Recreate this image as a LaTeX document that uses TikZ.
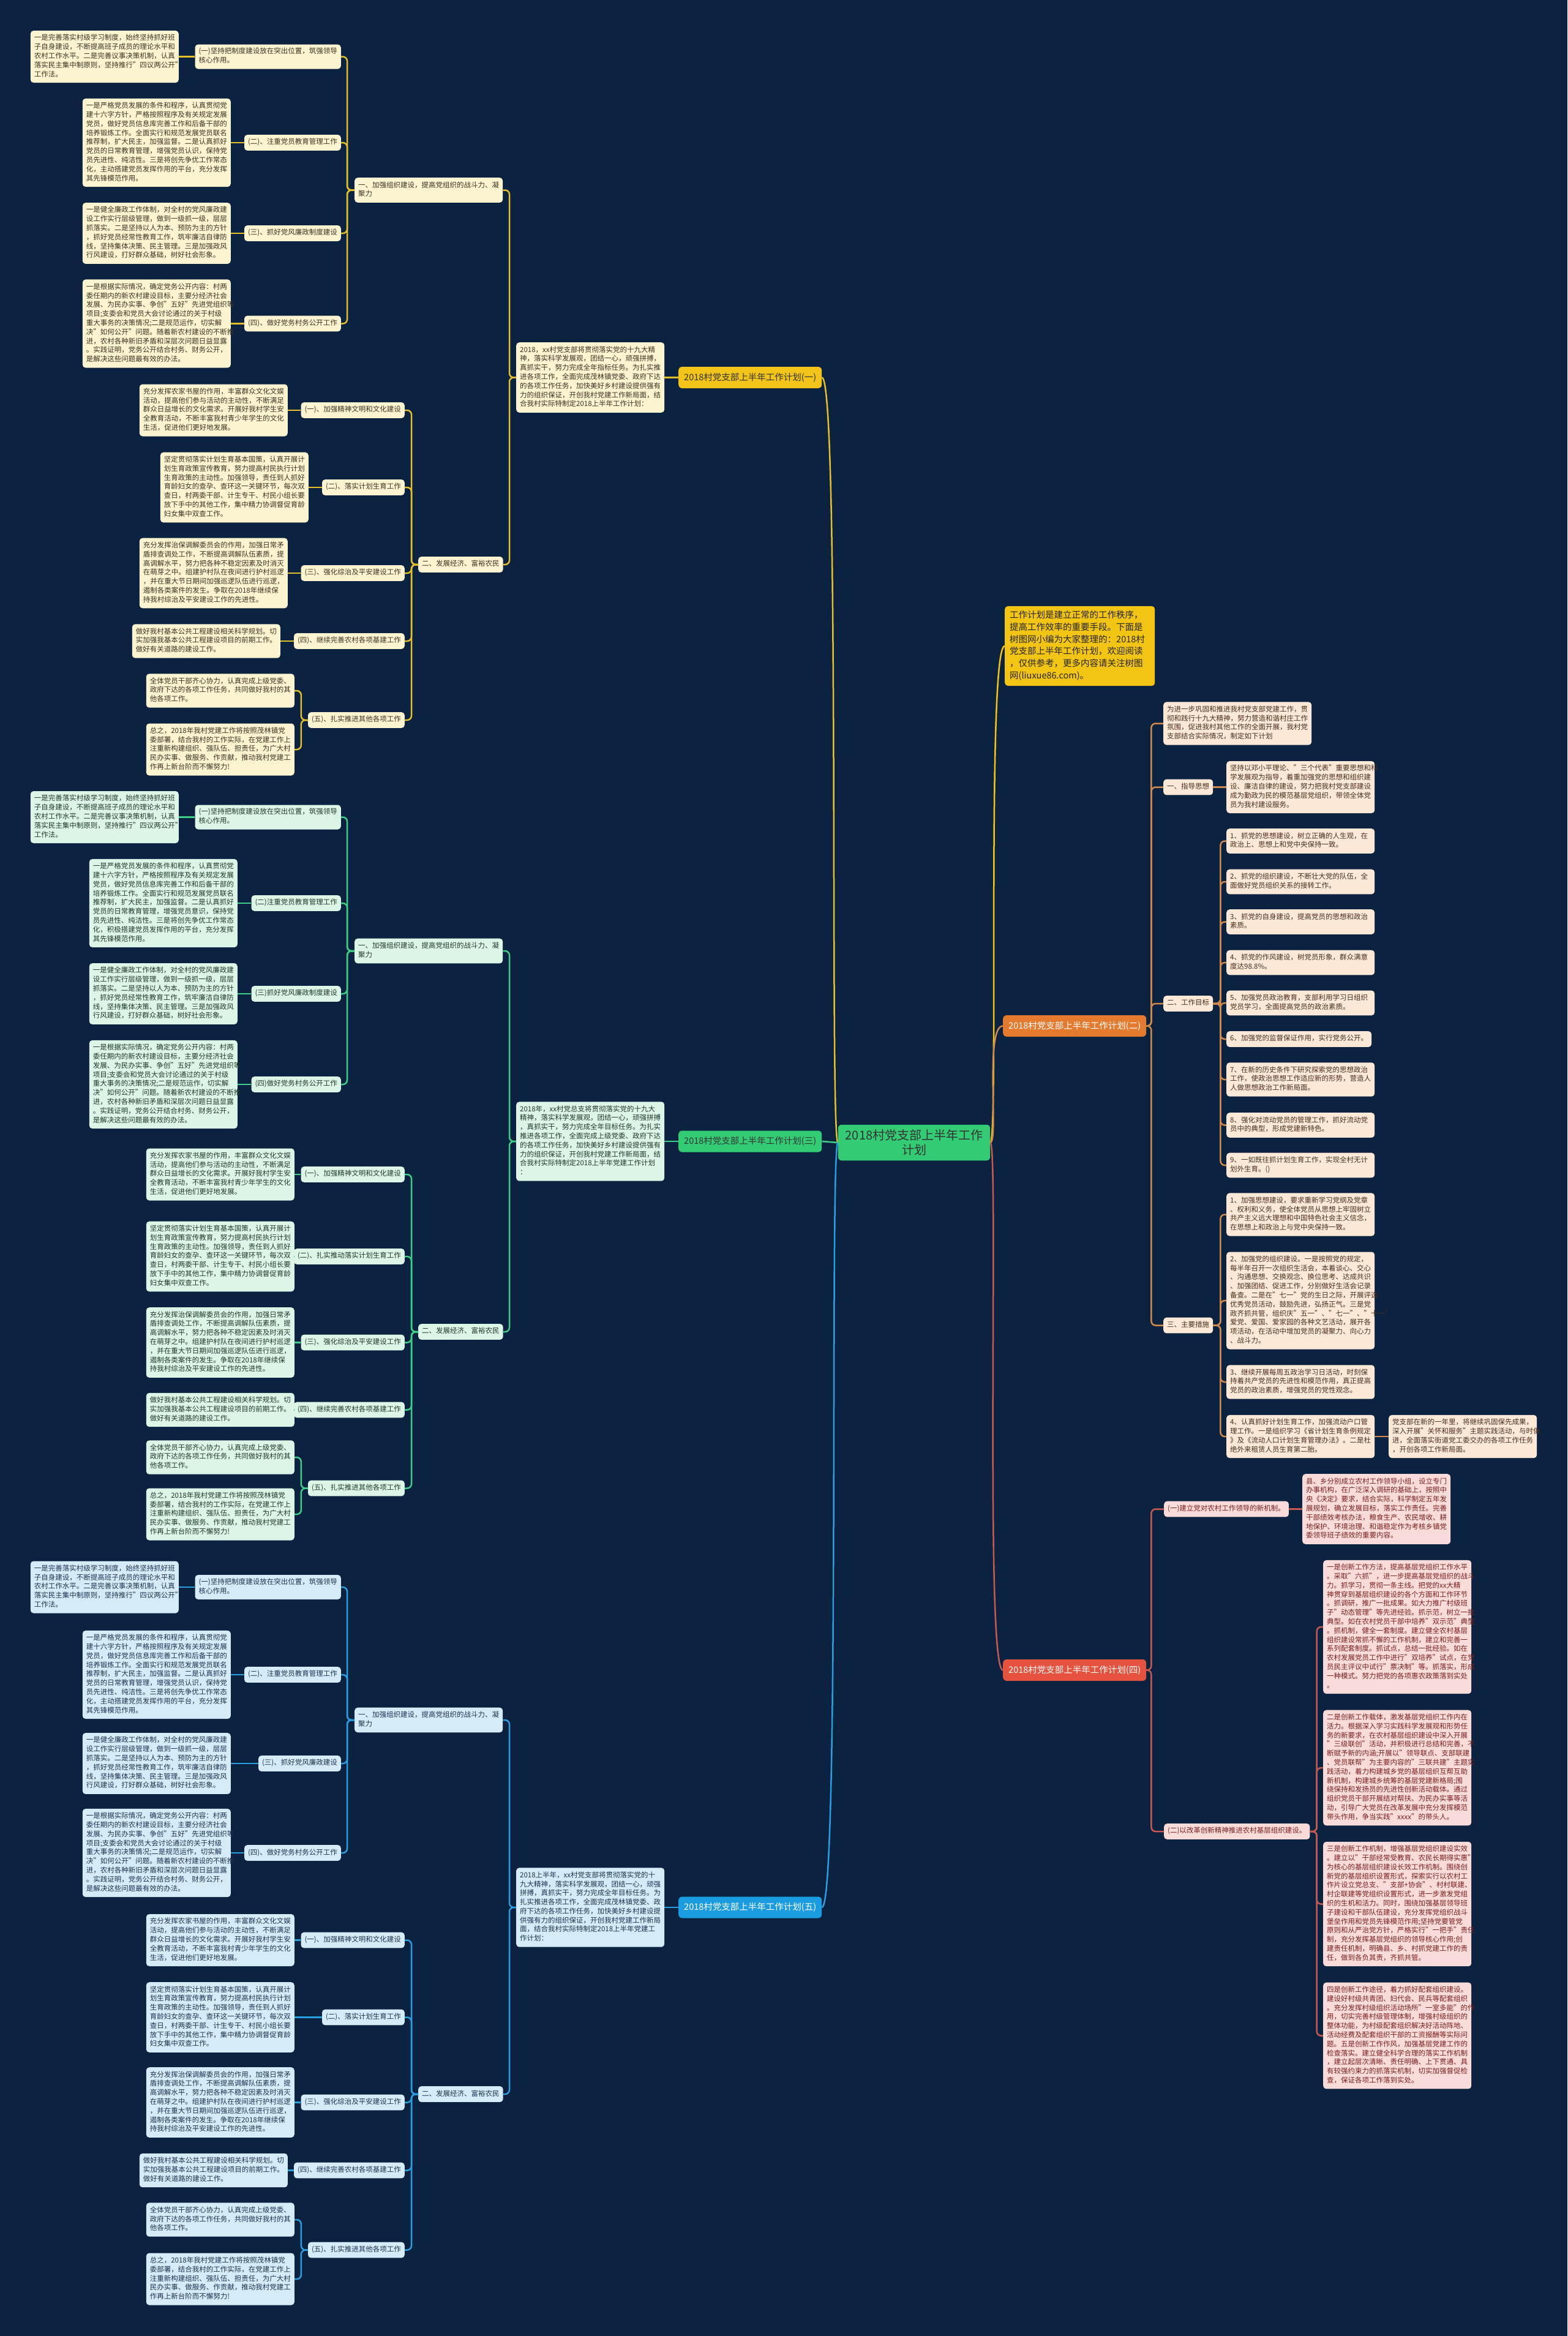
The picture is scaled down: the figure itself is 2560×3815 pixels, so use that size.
\documentclass[tikz,border=0pt]{standalone}
\usepackage{fontspec}
\setmainfont{Noto Sans CJK SC}
\usetikzlibrary{calc}
\definecolor{bgc}{HTML}{0B2240}
\definecolor{ymain}{HTML}{F2C419}
\definecolor{yln}{HTML}{E3BF2A}
\definecolor{yfill}{HTML}{FCF3D0}
\definecolor{ytext}{HTML}{3A3424}
\definecolor{gmain}{HTML}{33CC74}
\definecolor{gln}{HTML}{3ECF86}
\definecolor{gfill}{HTML}{DDF5E6}
\definecolor{gtext}{HTML}{1E3A2A}
\definecolor{bmain}{HTML}{1B9BE0}
\definecolor{bln}{HTML}{2A9EDF}
\definecolor{bfill}{HTML}{D5ECF8}
\definecolor{btext}{HTML}{1A3450}
\definecolor{omain}{HTML}{E47A2E}
\definecolor{oln}{HTML}{D18A4C}
\definecolor{ofill}{HTML}{FCE8D6}
\definecolor{otext}{HTML}{4A2E1A}
\definecolor{rmain}{HTML}{E5533F}
\definecolor{rln}{HTML}{C65A53}
\definecolor{rfill}{HTML}{F9DCDA}
\definecolor{rtext}{HTML}{7A1E1E}
\definecolor{introc}{HTML}{F2C414}
\newcommand\fleaf{\fontsize{11.5}{14.8}\selectfont}
\newcommand\fmain{\fontsize{14.5}{17}\selectfont}
\newcommand\fintro{\fontsize{14.5}{19.7}\selectfont}
\newcommand\froot{\fontsize{20}{24}\selectfont}
% shared texts
\newcommand\TLone{一是完善落实村级学习制度，始终坚持抓好班\\子自身建设，不断提高班子成员的理论水平和\\农村工作水平。二是完善议事决策机制，认真\\落实民主集中制原则，坚持推行"四议两公开"\\工作法。}
\newcommand\TLtwoa{一是严格党员发展的条件和程序，认真贯彻党\\建十六字方针，严格按照程序及有关规定发展\\党员，做好党员信息库完善工作和后备干部的\\培养锻炼工作。全面实行和规范发展党员联名\\推荐制，扩大民主，加强监督。二是认真抓好\\党员的日常教育管理，增强党员认识，保持党\\员先进性、纯洁性。三是将创先争优工作常态\\化，主动搭建党员发挥作用的平台，充分发挥\\其先锋模范作用。}
\newcommand\TLtwob{一是严格党员发展的条件和程序，认真贯彻党\\建十六字方针，严格按照程序及有关规定发展\\党员，做好党员信息库完善工作和后备干部的\\培养锻炼工作。全面实行和规范发展党员联名\\推荐制，扩大民主，加强监督。二是认真抓好\\党员的日常教育管理，增强党员意识，保持党\\员先进性、纯洁性。三是将创先争优工作常态\\化，积极搭建党员发挥作用的平台，充分发挥\\其先锋模范作用。}
\newcommand\TLthree{一是健全廉政工作体制，对全村的党风廉政建\\设工作实行层级管理，做到一级抓一级，层层\\抓落实。二是坚持以人为本、预防为主的方针\\，抓好党员经常性教育工作，筑牢廉洁自律防\\线，坚持集体决策、民主管理。三是加强政风\\行风建设，打好群众基础，树好社会形象。}
\newcommand\TLfour{一是根据实际情况，确定党务公开内容：村两\\委任期内的新农村建设目标，主要分经济社会\\发展、为民办实事、争创"五好"先进党组织等\\项目;支委会和党员大会讨论通过的关于村级\\重大事务的决策情况;二是规范运作，切实解\\决"如何公开"问题。随着新农村建设的不断推\\进，农村各种新旧矛盾和深层次问题日益显露\\。实践证明，党务公开结合村务、财务公开，\\是解决这些问题最有效的办法。}
\newcommand\TMone{充分发挥农家书屋的作用，丰富群众文化文娱\\活动，提高他们参与活动的主动性，不断满足\\群众日益增长的文化需求。开展好我村学生安\\全教育活动，不断丰富我村青少年学生的文化\\生活，促进他们更好地发展。}
\newcommand\TMtwo{坚定贯彻落实计划生育基本国策，认真开展计\\划生育政策宣传教育，努力提高村民执行计划\\生育政策的主动性。加强领导，责任到人抓好\\育龄妇女的查孕、查环这一关键环节，每次双\\查日，村两委干部、计生专干、村民小组长要\\放下手中的其他工作，集中精力协调督促育龄\\妇女集中双查工作。}
\newcommand\TMthree{充分发挥治保调解委员会的作用，加强日常矛\\盾排查调处工作，不断提高调解队伍素质，提\\高调解水平，努力把各种不稳定因素及时消灭\\在萌芽之中。组建护村队在夜间进行护村巡逻\\，并在重大节日期间加强巡逻队伍进行巡逻，\\遏制各类案件的发生。争取在2018年继续保\\持我村综治及平安建设工作的先进性。}
\newcommand\TMfour{做好我村基本公共工程建设相关科学规划。切\\实加强我基本公共工程建设项目的前期工作。\\做好有关道路的建设工作。}
\newcommand\TMfivea{全体党员干部齐心协力，认真完成上级党委、\\政府下达的各项工作任务，共同做好我村的其\\他各项工作。}
\newcommand\TMfiveb{总之，2018年我村党建工作将按照茂林镇党\\委部署，结合我村的工作实际，在党建工作上\\注重新构建组织、强队伍、担责任，为广大村\\民办实事、做服务、作贡献，推动我村党建工\\作再上新台阶而不懈努力!}
\begin{document}
\begin{tikzpicture}[x=1pt,y=-1pt,
  cbox/.style={rounded corners=5pt, inner xsep=6pt, inner ysep=5.5pt, align=left, font=\fleaf, execute at begin node=\strut, execute at end node=\strut},
  cleaf/.style={cbox, text width=230pt},
  mainnode/.style={rounded corners=6pt, inner xsep=9pt, inner ysep=6pt, font=\fmain, minimum height=35pt},
  ylab/.style={cbox, fill=yfill, text=ytext}, yleaf/.style={cleaf, fill=yfill, text=ytext},
  glab/.style={cbox, fill=gfill, text=gtext}, gleaf/.style={cleaf, fill=gfill, text=gtext},
  blab/.style={cbox, fill=bfill, text=btext}, bleaf/.style={cleaf, fill=bfill, text=btext},
  olab/.style={cbox, fill=ofill, text=otext}, oleaf/.style={cleaf, fill=ofill, text=otext},
  rlab/.style={cbox, fill=rfill, text=rtext}, rleaf/.style={cleaf, fill=rfill, text=rtext},
  yline/.style={draw=yln, line width=2.5pt, rounded corners=7pt},
  gline/.style={draw=gln, line width=2.5pt, rounded corners=7pt},
  bline/.style={draw=bln, line width=2.5pt, rounded corners=7pt},
  oline/.style={draw=oln, line width=2.5pt, rounded corners=7pt},
  rline/.style={draw=rln, line width=2.5pt, rounded corners=7pt}]
\fill[bgc] (0,0) rectangle (2560,3815);
\useasboundingbox (0,0) rectangle (2560,3815);

% ================= ROOT =================
\node[mainnode, fill=gmain, text=black!80, font=\froot, align=center, inner xsep=12pt, inner ysep=8pt] (root) at (1493,1866) {2018村党支部上半年工作\\计划};

% ================= BRANCH (一) yellow =================
\node[mainnode, fill=ymain, text=black!80, anchor=west] (Y) at (1108,616.5) {2018村党支部上半年工作计划(一)};
\node[yleaf, anchor=west] (yd) at (843,616.5) {2018，xx村党支部将贯彻落实党的十九大精\\神，落实科学发展观，团结一心，顽强拼搏，\\真抓实干，努力完成全年指标任务。为扎实推\\进各项工作，全面完成茂林镇党委、政府下达\\的各项工作任务，加快美好乡村建设提供强有\\力的组织保证，开创我村党建工作新局面，结\\合我村实际特制定2018上半年工作计划：};
\node[yleaf, anchor=west] (ys1) at (579,310.5) {一、加强组织建设，提高党组织的战斗力、凝\\聚力};
\node[ylab, anchor=west] (ys2) at (683,922) {二、发展经济、富裕农民};
\node[ylab, anchor=east] (ya) at (557,92.6) {(一)坚持把制度建设放在突出位置，筑强领导\\核心作用。};
\node[ylab, anchor=east] (yb) at (557,233) {(二)、注重党员教育管理工作};
\node[ylab, anchor=east] (yc) at (557,381) {(三)、抓好党风廉政制度建设};
\node[ylab, anchor=east] (ydd) at (557,528.5) {(四)、做好党务村务公开工作};
\node[yleaf, anchor=east] (ya1) at (292,92.6) {\TLone};
\node[yleaf, anchor=east] (yb1) at (377,233) {\TLtwoa};
\node[yleaf, anchor=east] (yc1) at (377,381) {\TLthree};
\node[yleaf, anchor=east] (ydd1) at (377,528.5) {\TLfour};
\node[ylab, anchor=east] (ye) at (661,670) {(一)、加强精神文明和文化建设};
\node[ylab, anchor=east] (yf) at (661,796) {(二)、落实计划生育工作};
\node[ylab, anchor=east] (yg) at (661,936) {(三)、强化综治及平安建设工作};
\node[ylab, anchor=east] (yh) at (661,1047) {(四)、继续完善农村各项基建工作};
\node[ylab, anchor=east] (yi) at (661,1176) {(五)、扎实推进其他各项工作};
\node[yleaf, anchor=east] (ye1) at (470,670) {\TMone};
\node[yleaf, anchor=east] (yf1) at (504,796) {\TMtwo};
\node[yleaf, anchor=east] (yg1) at (470,936) {\TMthree};
\node[yleaf, anchor=east] (yh1) at (458,1047) {\TMfour};
\node[yleaf, anchor=east] (yi1) at (481,1128) {\TMfivea};
\node[yleaf, anchor=east] (yi2) at (481,1224) {\TMfiveb};
\draw[yline] (Y.west) -- (yd.east);
\draw[yline] (yd.west) -- ++(-11,0) |- (ys1.east);
\draw[yline] (yd.west) -- ++(-11,0) |- (ys2.east);
\foreach \c in {ya,yb,yc,ydd} \draw[yline] (ys1.west) -- ++(-12,0) |- (\c.east);
\foreach \c in {ye,yf,yg,yh,yi} \draw[yline] (ys2.west) -- ++(-11,0) |- (\c.east);
\foreach \c in {ya,yb,yc,ydd,ye,yf,yg,yh} \draw[yline] (\c1.east) -- (\c1.east -| \c.west);
\draw[yline] (yi.west) -- ++(-11,0) |- (yi1.east);
\draw[yline] (yi.west) -- ++(-11,0) |- (yi2.east);

% ================= BRANCH (三) green =================
\node[mainnode, fill=gmain, text=black!80, anchor=west] (G) at (1108,1864) {2018村党支部上半年工作计划(三)};
\node[gleaf, anchor=west] (gd) at (843,1864) {2018年，xx村党总支将贯彻落实党的十九大\\精神，落实科学发展观，团结一心，顽强拼搏\\，真抓实干，努力完成全年目标任务。为扎实\\推进各项工作，全面完成上级党委、政府下达\\的各项工作任务，加快美好乡村建设提供强有\\力的组织保证，开创我村党建工作新局面，结\\合我村实际特制定2018上半年党建工作计划\\：};
\node[gleaf, anchor=west] (gs1) at (579,1553) {一、加强组织建设，提高党组织的战斗力、凝\\聚力};
\node[glab, anchor=west] (gs2) at (683,2175) {二、发展经济、富裕农民};
\node[glab, anchor=east] (ga) at (557,1334.5) {(一)坚持把制度建设放在突出位置，筑强领导\\核心作用。};
\node[glab, anchor=east] (gb) at (557,1475) {(二)注重党员教育管理工作};
\node[glab, anchor=east] (gc) at (557,1623) {(三)抓好党风廉政制度建设};
\node[glab, anchor=east] (gdd) at (557,1771) {(四)做好党务村务公开工作};
\node[gleaf, anchor=east] (ga1) at (292,1334.5) {\TLone};
\node[gleaf, anchor=east] (gb1) at (388,1475) {\TLtwob};
\node[gleaf, anchor=east] (gc1) at (388,1623) {\TLthree};
\node[gleaf, anchor=east] (gdd1) at (388,1771) {\TLfour};
\node[glab, anchor=east] (ge) at (661,1918) {(一)、加强精神文明和文化建设};
\node[glab, anchor=east] (gf) at (661,2052) {(二)、扎实推动落实计划生育工作};
\node[glab, anchor=east] (gg) at (661,2192.5) {(三)、强化综治及平安建设工作};
\node[glab, anchor=east] (gh) at (661,2302.5) {(四)、继续完善农村各项基建工作};
\node[glab, anchor=east] (gi) at (661,2430.5) {(五)、扎实推进其他各项工作};
\node[gleaf, anchor=east] (ge1) at (481,1918) {\TMone};
\node[gleaf, anchor=east] (gf1) at (481,2052) {\TMtwo};
\node[gleaf, anchor=east] (gg1) at (481,2192.5) {\TMthree};
\node[gleaf, anchor=east] (gh1) at (481,2302.5) {\TMfour};
\node[gleaf, anchor=east] (gi1) at (481,2380) {\TMfivea};
\node[gleaf, anchor=east] (gi2) at (481,2473) {\TMfiveb};
\draw[gline] (G.west) -- (gd.east);
\draw[gline] (gd.west) -- ++(-11,0) |- (gs1.east);
\draw[gline] (gd.west) -- ++(-11,0) |- (gs2.east);
\foreach \c in {ga,gb,gc,gdd} \draw[gline] (gs1.west) -- ++(-12,0) |- (\c.east);
\foreach \c in {ge,gf,gg,gh,gi} \draw[gline] (gs2.west) -- ++(-11,0) |- (\c.east);
\foreach \c in {ga,gb,gc,gdd,ge,gf,gg,gh} \draw[gline] (\c1.east) -- (\c1.east -| \c.west);
\draw[gline] (gi.west) -- ++(-11,0) |- (gi1.east);
\draw[gline] (gi.west) -- ++(-11,0) |- (gi2.east);

% ================= BRANCH (五) blue =================
\node[mainnode, fill=bmain, text=white, anchor=west] (B) at (1108,3115) {2018村党支部上半年工作计划(五)};
\node[bleaf, anchor=west] (bd) at (843,3115) {2018上半年，xx村党支部将贯彻落实党的十\\九大精神，落实科学发展观，团结一心，顽强\\拼搏，真抓实干，努力完成全年目标任务。为\\扎实推进各项工作，全面完成茂林镇党委、政\\府下达的各项工作任务，加快美好乡村建设提\\供强有力的组织保证，开创我村党建工作新局\\面，结合我村实际特制定2018上半年党建工\\作计划：};
\node[bleaf, anchor=west] (bs1) at (579,2809) {一、加强组织建设，提高党组织的战斗力、凝\\聚力};
\node[blab, anchor=west] (bs2) at (683,3420) {二、发展经济、富裕农民};
\node[blab, anchor=east] (ba) at (557,2592) {(一)坚持把制度建设放在突出位置，筑强领导\\核心作用。};
\node[blab, anchor=east] (bb) at (557,2735) {(二)、注重党员教育管理工作};
\node[blab, anchor=east] (bc) at (557,2880) {(三)、抓好党风廉政建设};
\node[blab, anchor=east] (bdd) at (557,3026) {(四)、做好党务村务公开工作};
\node[bleaf, anchor=east] (ba1) at (292,2592) {\TLone};
\node[bleaf, anchor=east] (bb1) at (377,2735) {\TLtwoa};
\node[bleaf, anchor=east] (bc1) at (377,2880) {\TLthree};
\node[bleaf, anchor=east] (bdd1) at (377,3026) {\TLfour};
\node[blab, anchor=east] (be) at (661,3168.5) {(一)、加强精神文明和文化建设};
\node[blab, anchor=east] (bf) at (661,3294.5) {(二)、落实计划生育工作};
\node[blab, anchor=east] (bg) at (661,3433.5) {(三)、强化综治及平安建设工作};
\node[blab, anchor=east] (bh) at (661,3544.5) {(四)、继续完善农村各项基建工作};
\node[blab, anchor=east] (bi) at (661,3674.5) {(五)、扎实推进其他各项工作};
\node[bleaf, anchor=east] (be1) at (481,3168.5) {\TMone};
\node[bleaf, anchor=east] (bf1) at (481,3294.5) {\TMtwo};
\node[bleaf, anchor=east] (bg1) at (481,3433.5) {\TMthree};
\node[bleaf, anchor=east] (bh1) at (470,3544.5) {\TMfour};
\node[bleaf, anchor=east] (bi1) at (481,3625) {\TMfivea};
\node[bleaf, anchor=east] (bi2) at (481,3722) {\TMfiveb};
\draw[bline] (B.west) -- (bd.east);
\draw[bline] (bd.west) -- ++(-11,0) |- (bs1.east);
\draw[bline] (bd.west) -- ++(-11,0) |- (bs2.east);
\foreach \c in {ba,bb,bc,bdd} \draw[bline] (bs1.west) -- ++(-12,0) |- (\c.east);
\foreach \c in {be,bf,bg,bh,bi} \draw[bline] (bs2.west) -- ++(-11,0) |- (\c.east);
\foreach \c in {ba,bb,bc,bdd,be,bf,bg,bh} \draw[bline] (\c1.east) -- (\c1.east -| \c.west);
\draw[bline] (bi.west) -- ++(-11,0) |- (bi1.east);
\draw[bline] (bi.west) -- ++(-11,0) |- (bi2.east);

% ================= INTRO =================
\node[rounded corners=5pt, fill=introc, text=black!85, font=\fintro, align=left, text width=229pt, inner xsep=8pt, inner ysep=6pt, anchor=west, execute at begin node=\strut, execute at end node=\strut] (intro) at (1641,1055) {工作计划是建立正常的工作秩序，\\提高工作效率的重要手段。下面是\\树图网小编为大家整理的：2018村\\党支部上半年工作计划，欢迎阅读\\，仅供参考，更多内容请关注树图\\网(liuxue86.com)。};

% ================= BRANCH (二) orange =================
\node[mainnode, fill=omain, text=white, anchor=west] (O) at (1638,1675.5) {2018村党支部上半年工作计划(二)};
\node[oleaf, anchor=west] (o0) at (1900,1181.5) {为进一步巩固和推进我村党支部党建工作，贯\\彻和践行十九大精神，努力营造和谐村庄工作\\氛围，促进我村其他工作的全面开展，我村党\\支部结合实际情况，制定如下计划};
\node[olab, anchor=west] (o1) at (1900,1285.5) {一、指导思想};
\node[olab, anchor=west] (o2) at (1900,1639) {二、工作目标};
\node[olab, anchor=west] (o3) at (1900,2164.5) {三、主要措施};
\node[oleaf, anchor=west] (o11) at (2003,1285.5) {坚持以邓小平理论、"三个代表"重要思想和科\\学发展观为指导，着重加强党的思想和组织建\\设、廉洁自律的建设，努力把我村党支部建设\\成为勤政为民的模范基层党组织，带领全体党\\员为我村建设服务。};
\node[oleaf, anchor=west] (o21) at (2003,1373.5) {1、抓党的思想建设，树立正确的人生观，在\\政治上、思想上和党中央保持一致。};
\node[oleaf, anchor=west] (o22) at (2003,1440) {2、抓党的组织建设，不断壮大党的队伍，全\\面做好党员组织关系的接转工作。};
\node[oleaf, anchor=west] (o23) at (2003,1505.5) {3、抓党的自身建设，提高党员的思想和政治\\素质。};
\node[oleaf, anchor=west] (o24) at (2003,1572) {4、抓党的作风建设，树党员形象，群众满意\\度达98.8\%。};
\node[oleaf, anchor=west] (o25) at (2003,1638) {5、加强党员政治教育，支部利用学习日组织\\党员学习，全面提高党员的政治素质。};
\node[olab, anchor=west] (o26) at (2003,1697) {6、加强党的监督保证作用，实行党务公开。};
\node[oleaf, anchor=west] (o27) at (2003,1763) {7、在新的历史条件下研究探索党的思想政治\\工作，使政治思想工作适应新的形势，营造人\\人做思想政治工作新局面。};
\node[oleaf, anchor=west] (o28) at (2003,1837.5) {8、强化对流动党员的管理工作，抓好流动党\\员中的典型，形成党建新特色。};
\node[oleaf, anchor=west] (o29) at (2003,1903) {9、一如既往抓计划生育工作，实现全村无计\\划外生育。()};
\node[oleaf, anchor=west] (o31) at (2003,1983.5) {1、加强思想建设，要求重新学习党纲及党章\\、权利和义务，使全体党员从思想上牢固树立\\共产主义远大理想和中国特色社会主义信念，\\在思想上和政治上与党中央保持一致。};
\node[oleaf, anchor=west] (o32) at (2003,2124) {2、加强党的组织建设。一是按照党的规定，\\每半年召开一次组织生活会，本着谈心、交心\\、沟通思想、交换观念、换位思考、达成共识\\、加强团结、促进工作，分别做好生活会记录\\备查。二是在"七一"党的生日之际，开展评选\\优秀党员活动，鼓励先进，弘扬正气。三是党\\政齐抓共管，组织庆"五一"、"七一"、"十一"\\爱党、爱国、爱家园的各种文艺活动，展开各\\项活动，在活动中增加党员的凝聚力、向心力\\、战斗力。};
\node[oleaf, anchor=west] (o33) at (2003,2257) {3、继续开展每周五政治学习日活动，时刻保\\持着共产党员的先进性和模范作用，真正提高\\党员的政治素质，增强党员的党性观念。};
\node[oleaf, anchor=west] (o34) at (2003,2346) {4、认真抓好计划生育工作，加强流动户口管\\理工作。一是组织学习《省计划生育条例规定\\》及《流动人口计划生育管理办法》。二是杜\\绝外来租赁人员生育第二胎。};
\node[oleaf, anchor=west] (o341) at (2268,2346) {党支部在新的一年里，将继续巩固保先成果，\\深入开展"关怀和服务"主题实践活动，与时俱\\进，全面落实街道党工委交办的各项工作任务\\，开创各项工作新局面。};
\foreach \c in {o0,o1,o2,o3} \draw[oline] (O.east) -- ++(8,0) |- (\c.west);
\draw[oline] (o1.east) -- (o11.west);
\foreach \c in {o21,o22,o23,o24,o25,o26,o27,o28,o29} \draw[oline] (o2.east) -- ++(12,0) |- (\c.west);
\foreach \c in {o31,o32,o33,o34} \draw[oline] (o3.east) -- ++(12,0) |- (\c.west);
\draw[oline] (o34.east) -- (o341.west);

% ================= BRANCH (四) red =================
\node[mainnode, fill=rmain, text=white, anchor=west] (R) at (1638,2727.5) {2018村党支部上半年工作计划(四)};
\node[rlab, anchor=west] (r1) at (1901,2464.5) {(一)建立党对农村工作领导的新机制。};
\node[rlab, anchor=west] (r2) at (1901,2991) {(二)以改革创新精神推进农村基层组织建设。};
\node[rleaf, anchor=west] (r11) at (2127,2464.5) {县、乡分别成立农村工作领导小组，设立专门\\办事机构，在广泛深入调研的基础上，按照中\\央《决定》要求，结合实际，科学制定五年发\\展规划，确立发展目标，落实工作责任。完善\\干部绩效考核办法，粮食生产、农民增收、耕\\地保护、环境治理、和谐稳定作为考核乡镇党\\委领导班子绩效的重要内容。};
\node[rleaf, anchor=west] (r21) at (2161,2657) {一是创新工作方法，提高基层党组织工作水平\\。采取"六抓"，进一步提高基层党组织的战斗\\力。抓学习，贯彻一条主线。把党的xx大精\\神贯穿到基层组织建设的各个方面和工作环节\\。抓调研，推广一批成果。如大力推广村级班\\子"动态管理"等先进经验。抓示范，树立一批\\典型。如在农村党员干部中培养"双示范"典型\\。抓机制，健全一套制度。建立健全农村基层\\组织建设常抓不懈的工作机制，建立和完善一\\系列配套制度。抓试点，总结一批经验。如在\\农村发展党员工作中进行"双培养"试点，在党\\员民主评议中试行"票决制"等。抓落实，形成\\一种模式。努力把党的各项惠农政策落到实处\\。};
\node[rleaf, anchor=west] (r22) at (2161,2887) {二是创新工作载体，激发基层党组织工作内在\\活力。根据深入学习实践科学发展观和形势任\\务的新要求，在农村基层组织建设中深入开展\\"三级联创"活动，并积极进行总结和完善，不\\断赋予新的内涵;开展以"领导联点、支部联建\\、党员联帮"为主要内容的"三联共建"主题实\\践活动，着力构建城乡党的基层组织互帮互助\\新机制，构建城乡统筹的基层党建新格局;围\\绕保持和发扬员的先进性创新活动载体。通过\\组织党员干部开展结对帮扶、为民办实事等活\\动，引导广大党员在改革发展中充分发挥模范\\带头作用，争当实践"xxxx"的带头人。};
\node[rleaf, anchor=west] (r23) at (2161,3109.5) {三是创新工作机制，增强基层党组织建设实效\\。建立以"干部经常受教育、农民长期得实惠"\\为核心的基层组织建设长效工作机制。围绕创\\新党的基层组织设置形式，探索实行以农村工\\作片设立党总支、"支部+协会"、村村联建、\\村企联建等党组织设置形式，进一步激发党组\\织的生机和活力。同时，围绕加强基层领导班\\子建设和干部队伍建设，充分发挥党组织战斗\\堡垒作用和党员先锋模范作用;坚持党要管党\\原则和从严治党方针，严格实行"一把手"责任\\制，充分发挥基层党组织的领导核心作用;创\\建责任机制，明确县、乡、村抓党建工作的责\\任，做到各负其责，齐抓共管。};
\node[rleaf, anchor=west] (r24) at (2161,3324.5) {四是创新工作途径，着力抓好配套组织建设。\\建设好村级共青团、妇代会、民兵等配套组织\\。充分发挥村级组织活动场所"一室多能"的作\\用，切实完善村级管理体制，增强村级组织的\\整体功能，为村级配套组织解决好活动阵地、\\活动经费及配套组织干部的工资报酬等实际问\\题。五是创新工作作风，加强基层党建工作的\\检查落实。建立健全科学合理的落实工作机制\\，建立起层次清晰、责任明确、上下贯通、具\\有较强约束力的抓落实机制，切实加强督促检\\查，保证各项工作落到实处。};
\foreach \c in {r1,r2} \draw[rline] (R.east) -- ++(8,0) |- (\c.west);
\draw[rline] (r1.east) -- (r11.west);
\foreach \c in {r21,r22,r23,r24} \draw[rline] (r2.east) -- ++(11,0) |- (\c.west);

% ================= ROOT CONNECTORS =================
\draw[yline] (root.west) .. controls +(-14,0) and +(30,0) .. (Y.east);
\draw[gline] (root.west) -- (G.east);
\draw[bline] (root.west) .. controls +(-14,0) and +(30,0) .. (B.east);
\draw[draw=introc, line width=2.5pt] (root.east) .. controls +(14,0) and +(-30,0) .. (intro.west);
\draw[oline] (root.east) .. controls +(14,0) and +(-30,0) .. (O.west);
\draw[rline] (root.east) .. controls +(14,0) and +(-30,0) .. (R.west);
\end{tikzpicture}
\end{document}
